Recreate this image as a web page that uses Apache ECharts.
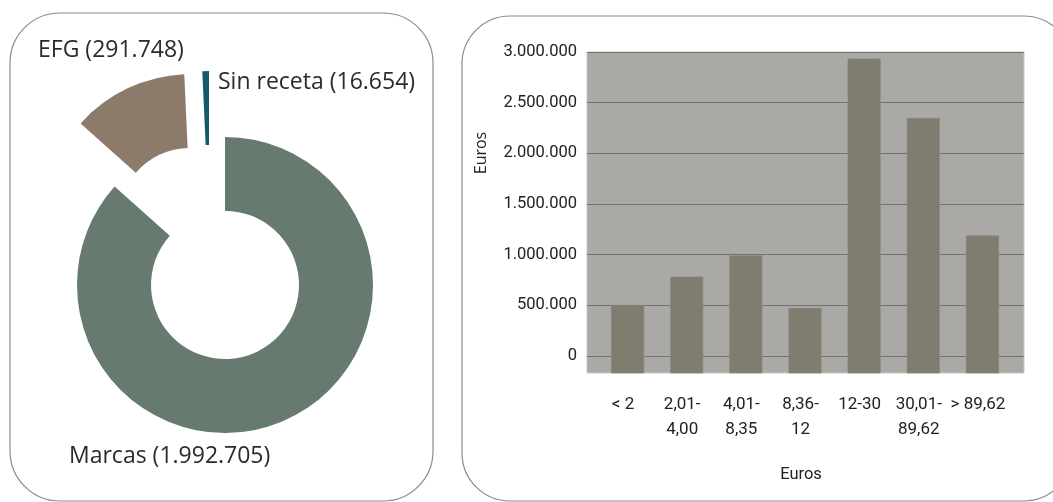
<!DOCTYPE html>
<html>
<head>
<meta charset="utf-8">
<script src="https://cdn.jsdelivr.net/npm/echarts@6/dist/echarts.min.js"></script>
<style>
html,body{margin:0;padding:0;background:#fff;}
#chart{width:1053px;height:502px;}
</style>
</head>
<body>
<div id="chart"></div>
<script>
// ---- Donut data ----
var PIE_NAMES = ['Marcas', 'EFG', 'Sin receta'];
var PIE_VALUES = [1992705, 291748, 16654];
var PIE_COLORS = ['#667a6f', '#8c7b6b', '#15596a'];

// ---- Bar data ----
var CATEGORIES = ['< 2', '2,01-\n4,00', '4,01-\n8,35', '8,36-\n12', '12-30', '30,01-\n89,62', '> 89,62'];
var BAR_VALUES = [500000, 780000, 990000, 472000, 2932000, 2345000, 1186000];
var Y_TICK_MAX = 3000000;
var Y_TICK_STEP = 500000;
var BAR_BASE = -168000; // plot area extends slightly below zero
var Y_TITLE = 'Euros';
var X_TITLE = 'Euros';

var NARROW = "Roboto, 'Liberation Sans', sans-serif";
var LABEL_FONT = "'Open Sans', 'Noto Sans', sans-serif";

function fmt(v) {
  return String(v).replace(/\B(?=(\d{3})+(?!\d))/g, '.');
}

// each exploded slice is drawn by its own pie series (other slices transparent)
var pieCenters = [[225, 285], [191, 222], [209, 219]];
var pieSeries = PIE_NAMES.map(function (nm, k) {
  return {
    type: 'pie',
    center: pieCenters[k],
    radius: [74, 148],
    startAngle: 90,
    clockwise: true,
    silent: true,
    label: {show: false},
    labelLine: {show: false},
    emphasis: {disabled: true},
    itemStyle: {borderWidth: 0},
    data: PIE_NAMES.map(function (n, i) {
      return {
        name: n,
        value: PIE_VALUES[i],
        itemStyle: {color: i === k ? PIE_COLORS[i] : 'rgba(0,0,0,0)', borderWidth: 0}
      };
    })
  };
});

var labelPos = [[69, 456], [38, 50], [218, 82]];
var pieLabels = PIE_NAMES.map(function (nm, i) {
  return {
    type: 'text',
    x: labelPos[i][0],
    y: labelPos[i][1],
    style: {
      text: nm + ' (' + fmt(PIE_VALUES[i]) + ')',
      font: '23px ' + LABEL_FONT,
      fill: '#2b2b2b',
      align: 'left',
      verticalAlign: 'middle'
    }
  };
});

var chart = echarts.init(document.getElementById('chart'), null, {renderer: 'canvas'});
chart.setOption({
  animation: false,
  backgroundColor: '#ffffff',
  graphic: [
    {type: 'rect', z: -10, shape: {x: 10, y: 13, width: 423, height: 488, r: 50},
     style: {fill: 'none', stroke: '#8a8a8a', lineWidth: 1.2}},
    {type: 'rect', z: -10, shape: {x: 462, y: 16, width: 610, height: 485, r: 48},
     style: {fill: 'none', stroke: '#8a8a8a', lineWidth: 1.2}},
    {type: 'text', x: 481, y: 153, rotation: Math.PI / 2,
     style: {text: Y_TITLE, font: '16px ' + LABEL_FONT, fill: '#222', align: 'center', verticalAlign: 'middle'}}
  ].concat(pieLabels),
  grid: [
    {left: 587, top: 52, width: 437, height: 321, show: true, backgroundColor: '#aaa9a5',
     borderColor: '#c6c6c4', borderWidth: 1},
    {left: 587, top: 52, width: 437, height: 304},
    {left: 598, top: 52, width: 414, height: 321}
  ],
  xAxis: [
    {gridIndex: 0, type: 'category', show: false, data: CATEGORIES},
    {gridIndex: 1, type: 'category', show: false, data: CATEGORIES},
    {gridIndex: 2, type: 'category', data: CATEGORIES,
     axisLine: {show: false}, axisTick: {show: false},
     axisLabel: {margin: 19, fontSize: 17, lineHeight: 25, color: '#222', fontFamily: NARROW,
                 interval: 0, padding: [0, 9, 0, 0]},
     name: X_TITLE, nameLocation: 'middle', nameGap: 93,
     nameTextStyle: {fontSize: 16.5, color: '#222', fontFamily: NARROW, padding: [0, 8, 0, 0]}}
  ],
  yAxis: [
    {gridIndex: 0, type: 'value', show: false, min: 0, max: 1},
    {gridIndex: 1, type: 'value', min: 0, max: Y_TICK_MAX, interval: Y_TICK_STEP,
     axisLine: {show: false}, axisTick: {show: false},
     axisLabel: {formatter: fmt, margin: 10, fontSize: 16.5, color: '#222', fontFamily: NARROW},
     splitLine: {show: true, lineStyle: {color: '#727272', width: 1}}},
    {gridIndex: 2, type: 'value', show: false, min: BAR_BASE, max: Y_TICK_MAX}
  ],
  series: pieSeries.concat([
    {
      type: 'custom',
      xAxisIndex: 2,
      yAxisIndex: 2,
      silent: true,
      encode: {x: 0, y: 1},
      data: BAR_VALUES.map(function (v, i) { return [i, v]; }),
      renderItem: function (params, api) {
        var idx = api.value(0);
        var top = api.coord([idx, api.value(1)]);
        var base = api.coord([idx, BAR_BASE]);
        var w = api.size([1, 0])[0] * 0.548;
        return {
          type: 'rect',
          shape: {x: top[0] - w / 2, y: top[1], width: w, height: base[1] - top[1]},
          style: {fill: '#7f7d70', stroke: '#8a887c', lineWidth: 0.6}
        };
      },
      z: 5
    }
  ])
});
</script>
</body>
</html>
